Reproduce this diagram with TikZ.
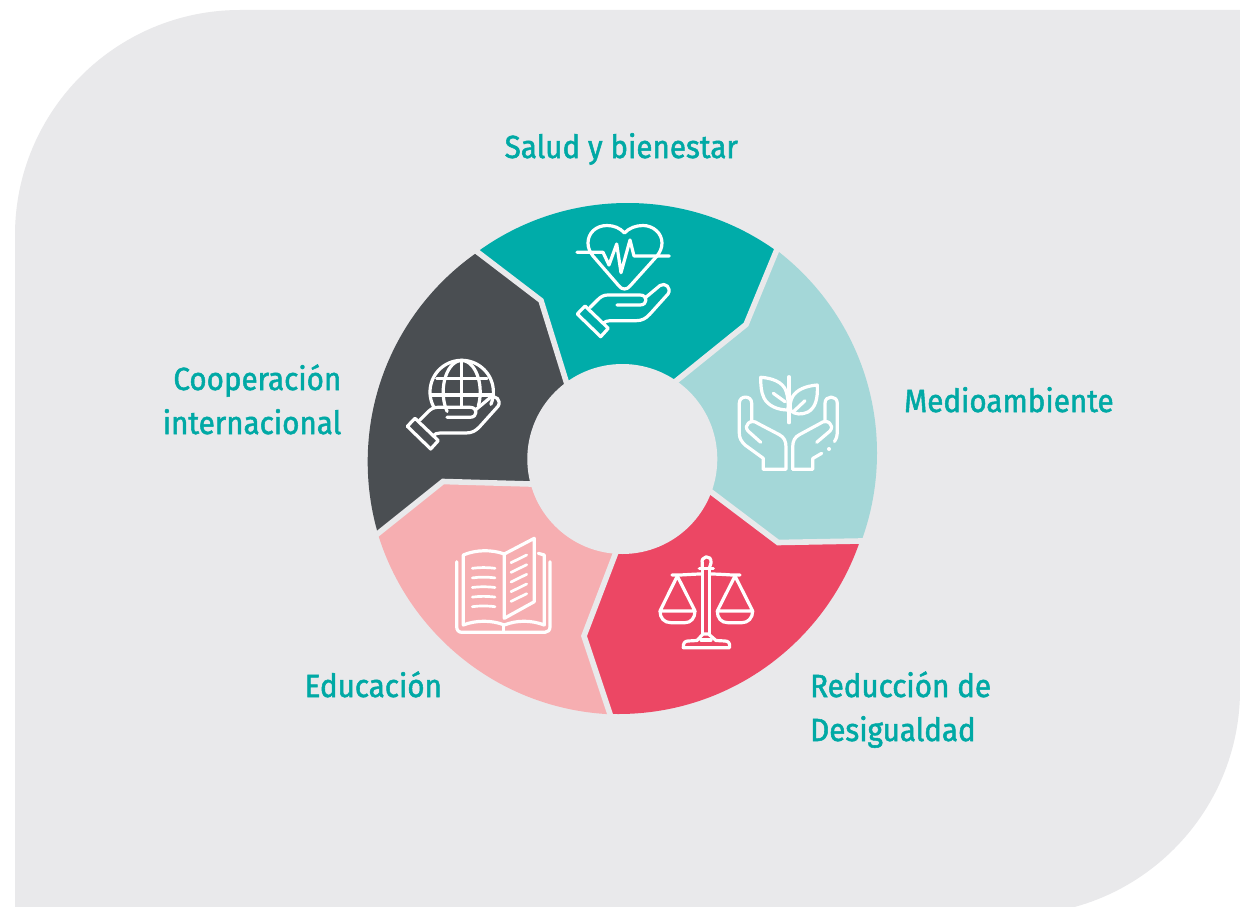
\documentclass[tikz,border=0pt]{standalone}
\usepackage{fontspec}
\usetikzlibrary{calc}
\newfontfamily\labelfont[FakeStretch=0.925,FakeBold=1.6]{Fira Sans}
\definecolor{bgc}{HTML}{E9E9EB}
\definecolor{tealc}{HTML}{00ACA9}
\definecolor{lightc}{HTML}{A4D7D8}
\definecolor{redc}{HTML}{EC4764}
\definecolor{pinkc}{HTML}{F6AEB1}
\definecolor{darkc}{HTML}{4A4E52}
\definecolor{textc}{HTML}{00A9A5}
\tikzset{
  icon/.style={draw=white,line width=3.2pt,line cap=round,line join=round},
  gapline/.style={draw=bgc,line width=5.6pt,line join=miter,shorten >=-14pt,shorten <=-14pt},
  lab/.style={text=textc,font=\labelfont\fontsize{32}{36}\selectfont,inner sep=0pt},
}
\newcommand{\hoop}[8]{% in1 mid1 out1 out2 mid2 in2, colour, arc centre
  \begin{scope}
    \clip (c) -- (#1) -- (#2) -- (#3) -- ($(c)!2!(#3)$) -- ($(c)!2!(#4)$) -- (#4) -- (#5) -- (#6) -- cycle;
    \fill[#7] #8 circle[radius=255pt];
  \end{scope}}
\newcommand{\handpath}{
  (585,306) -- (577.3,314) -- (600.7,336.7) -- (608.3,328.3) -- cycle
  (590,307.5) -- (598,299.5) .. controls (601,296.5) and (604,295) .. (608,295) -- (640,295)
   .. controls (648,295) and (648,305) .. (640,305) -- (617,305)
  (645,298) -- (660,285.5) .. controls (665,282) and (672,288) .. (668,294) -- (650,314)
   .. controls (646,318.5) and (642,320.7) .. (636,320.7) -- (610,320.7) .. controls (607,320.7) and (605,321.5) .. (603,323.5)
}
\begin{document}
\begin{tikzpicture}[x=1pt,y=-1pt]
\useasboundingbox (0,0) rectangle (1240,907);
\fill[white] (0,0) rectangle (1240,907);
\begin{scope}
  \clip (0,0) rectangle (1240,907);
  \fill[bgc] (15,930) -- (15,235) .. controls (15,111) and (116,10) .. (240,10) -- (1240,10) -- (1240,690)
     .. controls (1240,814) and (1139,915) .. (1015,915) -- (15,915) -- cycle;
\end{scope}
\coordinate (c) at (622.3,459);
\coordinate (ai) at (678.5,379); \coordinate (am) at (746,324.5); \coordinate (ao) at (776.5,250.5);
\coordinate (bi) at (710.5,491.5); \coordinate (bm) at (778,542.5); \coordinate (bo) at (860.5,541);
\coordinate (ci) at (615.5,553.5); \coordinate (cm) at (584,636); \coordinate (co) at (610,714);
\coordinate (di) at (530.5,484); \coordinate (dm) at (443,481.5); \coordinate (do) at (378,533.5);
\coordinate (ei) at (566,381); \coordinate (em) at (541,300.5); \coordinate (eo) at (477.5,252);
\hoop{ei}{em}{eo}{ao}{am}{ai}{tealc}{(627.5,458)}
\hoop{ai}{am}{ao}{bo}{bm}{bi}{lightc}{(622,453)}
\hoop{bi}{bm}{bo}{co}{cm}{ci}{redc}{(618.4,459)}
\hoop{ci}{cm}{co}{do}{dm}{di}{pinkc}{(621.9,459.5)}
\hoop{di}{dm}{do}{eo}{em}{ei}{darkc}{(622.7,461.8)}
\draw[gapline] (ai) -- (am) -- (ao);
\draw[gapline] (bi) -- (bm) -- (bo);
\draw[gapline] (ci) -- (cm) -- (co);
\draw[gapline] (di) -- (dm) -- (do);
\draw[gapline] (ei) -- (em) -- (eo);
\fill[bgc] (c) circle[radius=95pt];
% heart
\draw[icon] (624.5,233) .. controls (620,228) and (614,225.5) .. (607,225.5) .. controls (596,225.5) and (588,233) .. (588,243) .. controls (588,248) and (590,252) .. (593,256) -- (619,286) .. controls (622,290) and (627,290) .. (630,286) -- (657,256) .. controls (660,252) and (662,248) .. (662,243) .. controls (662,233) and (653,225.5) .. (643,225.5) .. controls (636,225.5) and (629,228) .. (624.5,233);
\draw[icon] (577,252.3) -- (603,252.3) -- (609,265) -- (616.7,244) -- (621,272.7) -- (630,240) -- (634,256) -- (669.3,256);
\draw[icon] \handpath;
% globe hand
\begin{scope}[shift={(-170,112.3)}]
  \draw[icon] \handpath;
\end{scope}
\draw[icon] plot[domain=150:383,samples=60] ({461.7+31.7*cos(\x)},{392+31.7*sin(\x)});
\draw[icon] plot[domain=142:270,samples=30] ({461.7+18.5*cos(\x)},{392+31.5*sin(\x)});
\draw[icon] plot[domain=270:386,samples=30] ({461.7+18.5*cos(\x)},{392+31.5*sin(\x)});
\draw[icon] (461.7,360.5) -- (461.7,407);
\draw[icon] (436.7,378.3) -- (487,378.3);
\draw[icon] (430.5,395) -- (493,395);
% plant hands
\draw[icon] (763.3,469.3) -- (763.3,458.3) -- (745,445) .. controls (741,441) and (739.3,438) .. (739.3,433) -- (739.3,403.3) .. controls (739.3,395) and (751.7,395) .. (751.7,403.3) -- (751.7,421.7);
\draw[icon] (763.3,469.3) -- (786,469.3) -- (786,447) .. controls (786,441) and (784,437) .. (779,434.5) -- (758,423.5) .. controls (751,418) and (743,425) .. (748,431) -- (760.7,442.3);
\draw[icon] (792.7,469.3) -- (812.7,469.3) -- (812.7,458.5) -- (821.7,453.3);
\draw[icon] (792.7,469.3) -- (792.7,447) .. controls (792.7,441) and (794.7,437) .. (799.7,434.5) -- (820,423.5) .. controls (827,418) and (835,425) .. (830,431) -- (816.7,442.3);
\draw[icon] (834.5,441.5) .. controls (836.5,438) and (837.3,436) .. (837.3,433) -- (837.3,403.3) .. controls (837.3,395) and (825,395) .. (825,403.3) -- (825,421.7);
\fill[white] (829,449) circle[radius=2pt];
\draw[icon] (789,376.7) -- (789,422.7);
\draw[icon] (760.7,377.3) .. controls (772,378) and (783,382) .. (786,391) .. controls (788,397) and (788.5,403) .. (788,410) .. controls (778,410) and (768,406) .. (764,398) .. controls (761,392) and (760.7,385) .. (760.7,377.3) -- cycle;
\draw[icon] (773.3,393.3) -- (785,401.7);
\draw[icon] (817.3,385) .. controls (805,386) and (797,390) .. (793,396) .. controls (790,401) and (789.5,406) .. (791,411) .. controls (795,414.5) and (802,415) .. (808,412) .. controls (815,408) and (818,400) .. (817.3,385) -- cycle;
\draw[icon] (793.3,411.7) -- (805,400.7);
% scales
\draw[icon] (702.3,568.3) -- (702.3,563.5) .. controls (700,556) and (712,553.5) .. (711,563) -- (709.3,568.3);
\draw[icon] (699.3,568.3) -- (713.3,568.3);
\draw[icon] (702.3,568.3) -- (702.3,634);
\draw[icon] (709.3,568.3) -- (709.3,634);
\draw[icon] (672,575) -- (680,575) .. controls (690,574.5) and (695,574) .. (702,574) (709.5,574) .. controls (717,574) and (724,574.5) .. (732,575) -- (740,575);
\draw[icon] (677.3,576) -- (660,611) -- (695,611) -- (677.3,576);
\draw[icon] (660,611) .. controls (660,618) and (664,622.7) .. (671,622.7) -- (685,622.7) .. controls (691,622.7) and (695,618) .. (695,611);
\draw[icon] (735,576) -- (717.3,611) -- (752.7,611) -- cycle;
\draw[icon] (717.3,611) .. controls (717.3,618) and (721,622.7) .. (728,622.7) -- (742,622.7) .. controls (748,622.7) and (752.7,618) .. (752.7,611);
\draw[icon] (683.3,647.7) -- (729.5,647.7) .. controls (730.5,643) and (728,641) .. (725,641) -- (716,640.5) -- (708.5,634) -- (703,634) -- (697,640.5) -- (688,641) .. controls (685,641) and (683,643) .. (683.3,647.7) -- cycle;
\draw[icon] (701,640) -- (711,640);
% book
\draw[icon] (504.3,554) .. controls (492,549.5) and (476,549.5) .. (463.3,555) -- (463.3,625) .. controls (476,620) and (492,620) .. (504.3,625);
\draw[icon] (504.3,554) -- (534.3,538.3) -- (534.3,601.7) -- (504.3,618.3) -- cycle;
\draw[icon] (538.3,553.3) -- (544.3,555) -- (544.3,625) .. controls (531,620) and (517,620) .. (504.3,625);
\draw[icon] (456.7,561.7) -- (456.7,626.7) .. controls (456.7,630) and (458.5,632.3) .. (461.7,632.3) -- (545,632.3) .. controls (548,632.3) and (550,630) .. (550,626.7) -- (550,561.7);
\draw[icon] (503.8,625) -- (503.8,632);
\foreach \yy in {568.3,577.9,587.5,597.1,606.7}
  \draw[icon,line width=2.7pt] (472.3,\yy) .. controls (480,\yy-1) and (487,\yy-1) .. (495,\yy);
\foreach \yy in {562.7,572.4,582,591.7,601.4}
  \draw[icon,line width=2.7pt] (511,\yy) -- (526.7,\yy-7.7);
% labels
\node[lab,anchor=base west] (salud) at (504.5,158) {Salud y bienestar};
\node[lab,anchor=base west] (medio) at (904,412) {Medioambiente};
\node[lab,anchor=base east] (coop) at (341.5,390) {Cooperación};
\node[lab,anchor=base east] (inter) at (341.5,434) {internacional};
\node[lab,anchor=base west] (edu) at (304.5,697) {Educación};
\node[lab,anchor=base west] (redu) at (810,697) {Reducción de};
\node[lab,anchor=base west] (desi) at (810,741) {Desigualdad};
\end{tikzpicture}
\end{document}
